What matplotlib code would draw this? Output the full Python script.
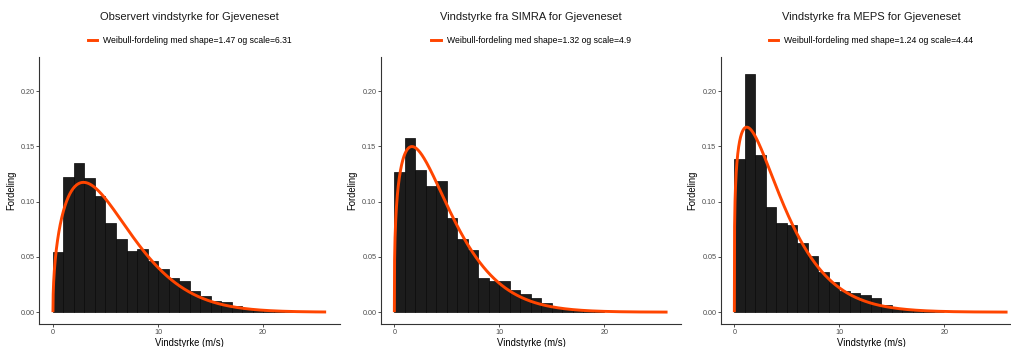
import numpy as np
import matplotlib
matplotlib.use("Agg")
import matplotlib.pyplot as plt
from matplotlib.lines import Line2D

plt.rcParams['font.family'] = ['Liberation Sans', 'DejaVu Sans']

titles = ["Observert vindstyrke for Gjeveneset",
          "Vindstyrke fra SIMRA for Gjeveneset",
          "Vindstyrke fra MEPS for Gjeveneset"]
shapes = [1.47, 1.32, 1.24]
scales = [6.31, 4.9, 4.44]

obs_density = [0.0549, 0.122, 0.135, 0.1216, 0.105, 0.0805, 0.066, 0.0555, 0.0573,
               0.046, 0.0395, 0.0308, 0.028, 0.019, 0.0148, 0.0103, 0.009, 0.0054,
               0.0033, 0.002, 0.0012, 0.0006, 0.0003]
simra_density = [0.1267, 0.158, 0.1285, 0.1146, 0.1186, 0.0848, 0.066, 0.0567, 0.0308,
                 0.0278, 0.0278, 0.0202, 0.0163, 0.0124, 0.0087, 0.0051, 0.0033, 0.002,
                 0.0012, 0.0006]
meps_density = [0.139, 0.2157, 0.1427, 0.0953, 0.0805, 0.0787, 0.0624, 0.0507, 0.0365,
                0.0274, 0.019, 0.0169, 0.0157, 0.013, 0.0063, 0.0036, 0.0024, 0.0015,
                0.0009, 0.0003]
densities = [obs_density, simra_density, meps_density]

x_max = 26
y_ticks = [0.00, 0.05, 0.10, 0.15, 0.20]
x_ticks = [0, 10, 20]

W, H = 1012, 347
fig = plt.figure(figsize=(W / 100, H / 100), dpi=100)

lefts = [39.3, 380.7, 720.7]
ax_w = 300.5
bottom_px = 324.3
top_px = 57.0

line_color = '#FF4500'

for i in range(3):
    ax = fig.add_axes([lefts[i] / W, (H - bottom_px) / H, ax_w / W, (bottom_px - top_px) / H])
    d = densities[i]
    edges = np.arange(len(d))
    ax.bar(edges, d, width=1.0, align='edge', color='#1c1c1c', edgecolor='#080808',
           linewidth=0.5, zorder=2)
    x = np.linspace(0, x_max, 1200)
    k, lam = shapes[i], scales[i]
    y = (k / lam) * (x / lam) ** (k - 1) * np.exp(-(x / lam) ** k)
    ax.plot(x, y, color=line_color, linewidth=2.1, zorder=3, solid_capstyle='butt')
    ax.set_xlim(-1.3, 27.3)
    ax.set_ylim(-0.011, 0.231)
    ax.set_xticks(x_ticks)
    ax.set_yticks(y_ticks)
    ax.set_yticklabels([f"{v:.2f}" for v in y_ticks])
    for s in ['top', 'right']:
        ax.spines[s].set_visible(False)
    for s in ['left', 'bottom']:
        ax.spines[s].set_color('#333333')
        ax.spines[s].set_linewidth(0.8)
    ax.tick_params(axis='both', labelsize=5.2, labelcolor='#4D4D4D', color='#333333',
                   length=2.4, width=0.6, pad=0.8)
    ax.set_xlabel("Vindstyrke (m/s)", fontsize=6.85, labelpad=1.8)
    ax.set_ylabel("Fordeling", fontsize=6.85, labelpad=3.5)
    ax.set_facecolor('white')

    cx = (lefts[i] + ax_w / 2) / W
    fig.text(cx, 1 - 17.3 / H, titles[i], ha='center', va='center', fontsize=8.0, color='#1a1a1a')
    label = f"Weibull-fordeling med shape={shapes[i]:g} og scale={scales[i]:g}"
    fig.legend(handles=[Line2D([], [], color=line_color, linewidth=2.1)], labels=[label],
               loc='center', bbox_to_anchor=(cx, 1 - 40.5 / H), frameon=False,
               fontsize=6.25, handlelength=1.08, handletextpad=0.7, borderaxespad=0)

fig.savefig("out.png", dpi=100, facecolor='white')
